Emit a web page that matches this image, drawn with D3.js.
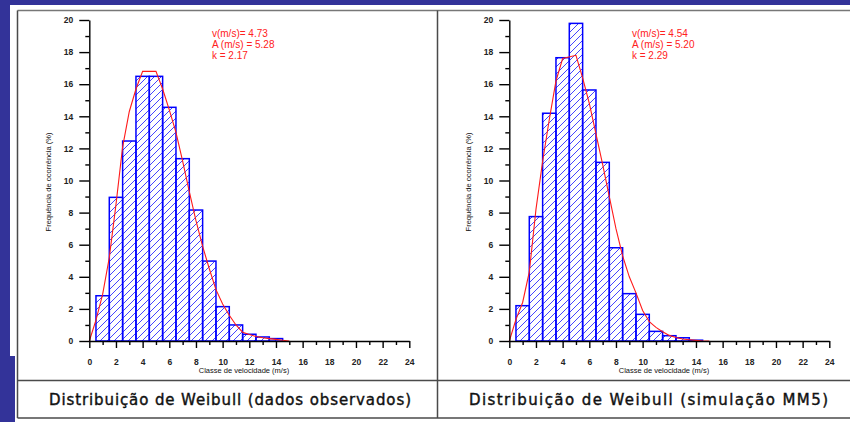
<!DOCTYPE html>
<meta charset="utf-8">
<script src="https://d3js.org/d3.v7.min.js"></script>
<style>
  body { margin: 0; background: #fff; }
  svg { display: block; }
</style>
<div id="my_dataviz"></div>
<script>
var width = 850
var height = 422

// velocity classes (m/s), bar centred on each class
var classes = [1, 2, 3, 4, 5, 6, 7, 8, 9, 10, 11, 12, 13, 14]
// frequency of occurrence (%) - observed data
var obsFreq = [2.82, 8.95, 12.46, 16.49, 16.49, 14.56, 11.36, 8.16, 4.98, 2.14, 1.0, 0.42, 0.25, 0.15]
// frequency of occurrence (%) - MM5 simulation
var mm5Freq = [2.2, 7.75, 14.19, 17.65, 19.79, 15.64, 11.13, 5.81, 2.95, 1.66, 0.6, 0.33, 0.2, 0.05]

// fitted weibull curves
var curveX = [0, 0.5, 1, 1.5, 2, 2.5, 3, 3.5, 4, 5, 5.5, 6, 6.5, 7, 7.5, 8, 8.5, 9, 9.5, 10, 10.5, 11, 11.5, 12, 12.5, 13, 13.5, 14, 14.5, 15]
var obsCurve = [0, 1.3, 2.9, 5.2, 8.5, 12.1, 14.3, 15.7, 16.8, 16.8, 15.7, 14.4, 13.0, 11.2, 9.3, 7.5, 5.9, 4.5, 3.2, 2.3, 1.6, 1.0, 0.55, 0.4, 0.28, 0.2, 0.15, 0.1, 0.05, 0]
var mm5Curve = [0, 1.35, 2.4, 4.3, 8.2, 11.2, 13.8, 16.2, 17.6, 17.8, 16.4, 14.8, 12.9, 11.0, 9.0, 7.0, 5.3, 4.0, 3.0, 1.9, 1.2, 0.85, 0.58, 0.35, 0.22, 0.12, 0.08, 0.04, 0, 0]

var yTicks = [0, 2, 4, 6, 8, 10, 12, 14, 16, 18, 20]
var xTicks = [0, 2, 4, 6, 8, 10, 12, 14, 16, 18, 20, 22, 24]

var panels = [
  { x0: 89.3, freq: obsFreq, curve: obsCurve, stats: ["v(m/s)= 4.73", "A (m/s) = 5.28", "k = 2.17"],
    caption: "Distribuição de Weibull (dados observados)", capX: 230, capW: 362 },
  { x0: 509.3, freq: mm5Freq, curve: mm5Curve, stats: ["v(m/s)= 4.54", "A (m/s) = 5.20", "k = 2.29"],
    caption: "Distribuição de Weibull (simulação MM5)", capX: 648.5, capW: 359 }
]

var svg = d3.select("#my_dataviz")
  .append("svg")
    .attr("width", width)
    .attr("height", height)

// page background
svg.append("rect").attr("width", width).attr("height", height).attr("fill", "#fff")
svg.append("rect").attr("x", 0).attr("y", 0).attr("width", width).attr("height", 5).attr("fill", "#333399")
svg.append("rect").attr("x", 0).attr("y", 0).attr("width", 10).attr("height", height).attr("fill", "#333399")
svg.append("rect").attr("x", 0).attr("y", 356).attr("width", 15).attr("height", 66).attr("fill", "#333399")

// hatch pattern
var defs = svg.append("defs")
defs.append("pattern")
    .attr("id", "hatch")
    .attr("patternUnits", "userSpaceOnUse")
    .attr("width", 7)
    .attr("height", 7)
  .append("path")
    .attr("d", "M-2,2 L2,-2 M0,7 L7,0 M5,9 L9,5")
    .style("stroke", "#4545ff")
    .style("stroke-width", 1)

// table lines
var tbl = svg.append("g").style("stroke", "#4a4a4a").style("stroke-width", 1.5).style("fill", "none")
tbl.append("line").attr("x1", 17.5).attr("x2", 850).attr("y1", 10.5).attr("y2", 10.5).style("stroke", "#777")
tbl.append("line").attr("x1", 17.5).attr("x2", 17.5).attr("y1", 10.5).attr("y2", 418)
tbl.append("line").attr("x1", 437.5).attr("x2", 437.5).attr("y1", 10.5).attr("y2", 418)
tbl.append("line").attr("x1", 17.5).attr("x2", 850).attr("y1", 380.5).attr("y2", 380.5)
tbl.append("line").attr("x1", 17.5).attr("x2", 850).attr("y1", 418).attr("y2", 418)

var y = d3.scaleLinear().domain([0, 20]).range([341, 20])

panels.forEach(function(p) {
  var x = d3.scaleLinear().domain([0, 24]).range([p.x0, p.x0 + 320])
  var g = svg.append("g")

  // bars
  g.selectAll("rect.bar")
    .data(classes)
    .enter()
    .append("rect")
      .attr("class", "bar")
      .attr("x", function(d) { return x(d - 0.5) })
      .attr("width", function(d) { return x(d + 0.5) - x(d - 0.5) })
      .attr("y", function(d, i) { return y(p.freq[i]) })
      .attr("height", function(d, i) { return y(0) - y(p.freq[i]) })
      .attr("fill", "url(#hatch)")
      .style("stroke", "#0000ff")
      .style("stroke-width", 1.5)

  // weibull curve
  var line = d3.line()
    .x(function(d) { return x(d) })
    .y(function(d, i) { return y(p.curve[i]) })
  g.append("path")
    .datum(curveX)
    .attr("d", line)
    .style("fill", "none")
    .style("stroke", "#ff1a1a")
    .style("stroke-width", 1.1)

  // y axis
  g.append("g").attr("transform", "translate(" + x(0) + ",0)")
    .call(d3.axisLeft(y).tickValues(yTicks).tickSize(10).tickSizeOuter(0).tickPadding(6))
  g.append("g").attr("transform", "translate(" + x(0) + ",0)")
    .call(d3.axisLeft(y).tickValues(d3.range(1, 20, 2)).tickSize(4).tickFormat(""))
    .select(".domain").remove()

  // x axis
  g.append("g").attr("transform", "translate(0," + y(0) + ")")
    .call(d3.axisBottom(x).tickValues(xTicks).tickSize(7).tickSizeOuter(0).tickPadding(11))
  g.append("g").attr("transform", "translate(0," + y(0) + ")")
    .call(d3.axisBottom(x).tickValues(d3.range(1, 24, 2)).tickSize(4).tickFormat(""))
    .select(".domain").remove()

  g.selectAll(".tick line, .domain").style("stroke", "#000").style("stroke-width", 1.4)
  g.selectAll(".tick text")
    .style("font-family", "Liberation Sans, Arial, sans-serif")
    .style("font-size", "8.5px")
    .style("font-weight", "bold")
    .style("fill", "#222")

  // axis titles
  g.append("text")
    .attr("x", x(11.6))
    .attr("y", 373)
    .attr("text-anchor", "middle")
    .style("font-family", "Liberation Sans, Arial, sans-serif")
    .style("font-size", "7.5px")
    .style("fill", "#111")
    .text("Classe de velocidade (m/s)")
  g.append("text")
    .attr("transform", "translate(" + (x(0) - 38) + "," + 182 + ") rotate(-90)")
    .attr("text-anchor", "middle")
    .style("font-family", "Liberation Sans, Arial, sans-serif")
    .style("font-size", "7.5px")
    .style("fill", "#111")
    .text("Frequência de ocorrência (%)")

  // fitted parameters
  g.selectAll("text.stat")
    .data(p.stats)
    .enter()
    .append("text")
      .attr("class", "stat")
      .attr("x", x(9.2))
      .attr("y", function(d, i) { return 37 + i * 11.2 })
      .style("font-family", "Liberation Sans, Arial, sans-serif")
      .style("font-size", "10px")
      .style("fill", "#ff2020")
      .text(function(d) { return d })

  // caption
  g.append("text")
    .attr("x", p.capX)
    .attr("y", 405)
    .attr("text-anchor", "middle")
    .attr("textLength", p.capW)
    .attr("lengthAdjust", "spacing")
    .style("font-family", "DejaVu Sans, Verdana, sans-serif")
    .style("font-size", "15px")
    .style("fill", "#111")
    .style("stroke", "#111")
    .style("stroke-width", 0.4)
    .text(p.caption)
})
</script>
